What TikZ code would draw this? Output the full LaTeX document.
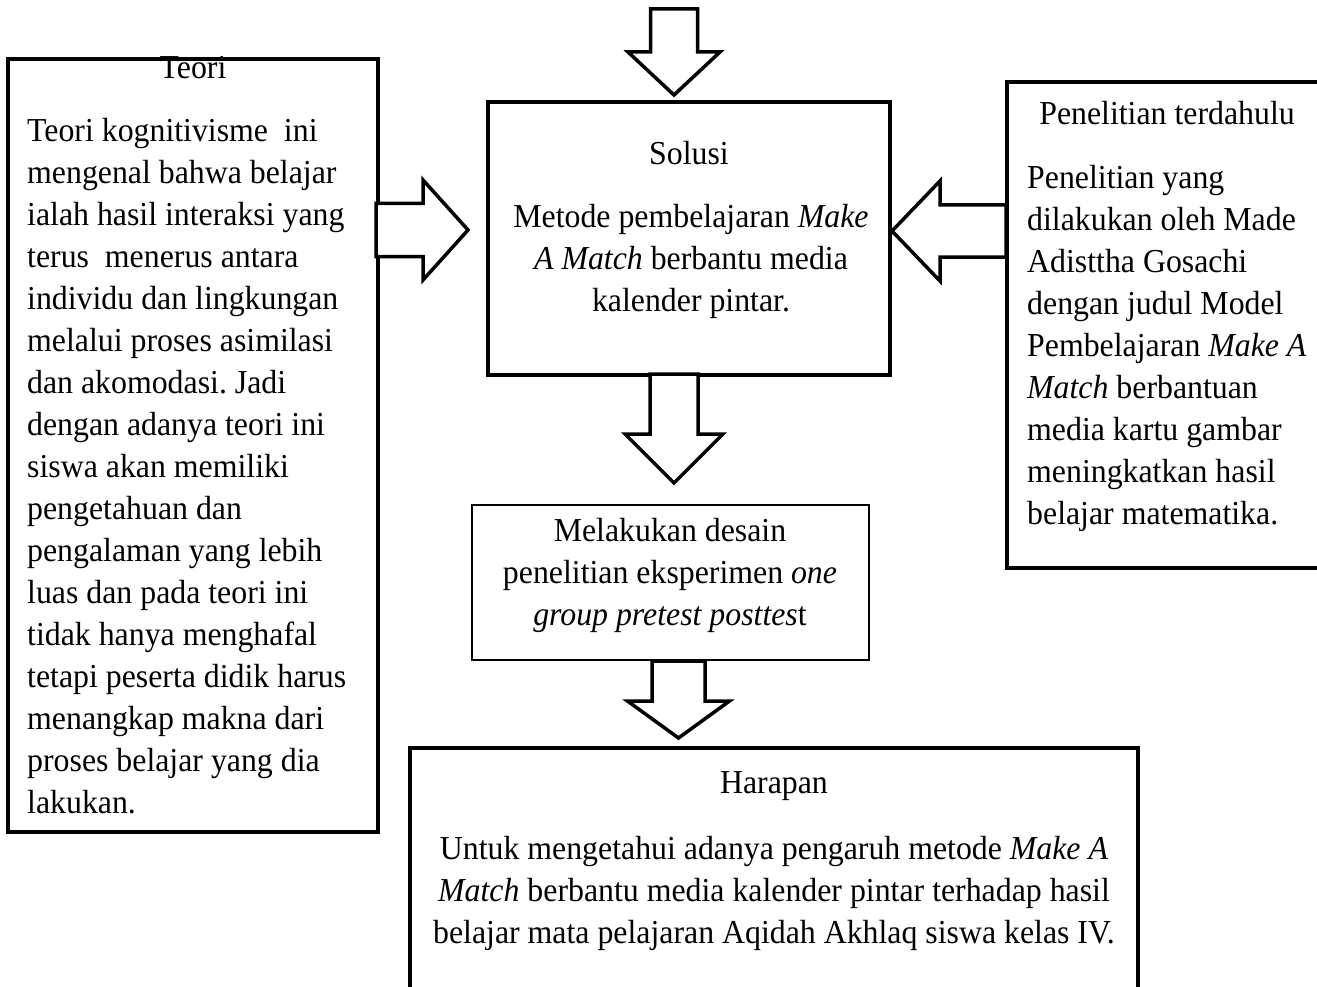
\documentclass[tikz,border=0pt]{standalone}
\usepackage{fontspec}
\setmainfont[FakeStretch=0.95]{Liberation Serif}
\usetikzlibrary{calc}
\frenchspacing
% block arrow: #1 start, #2 tip, #3 shaft half-width, #4 head half-width, #5 head length
\newcommand\blockarrow[5]{%
  \coordinate (hb) at ($(#2)!#5pt!(#1)$);
  \draw[barrow] ($(#1)!#3pt!90:(#2)$) -- ($(hb)!#3pt!90:(#2)$) -- ($(hb)!#4pt!90:(#2)$)
    -- (#2) -- ($(hb)!#4pt!-90:(#2)$) -- ($(hb)!#3pt!-90:(#2)$) -- ($(#1)!#3pt!-90:(#2)$) -- cycle;}
\begin{document}
\begin{tikzpicture}[x=1pt,y=-1pt,
  txt/.style={font=\fontsize{33.5}{42}\selectfont\frenchspacing, inner sep=0pt},
  thickbox/.style={draw, line width=4pt, inner sep=0pt, outer sep=0pt, anchor=north west},
  thinbox/.style={draw, line width=2pt, inner sep=0pt, outer sep=0pt, anchor=north west},
  barrow/.style={draw, fill=white, line width=3.5pt, line join=miter}]
\useasboundingbox (0,0) rectangle (1317,987);

% texts
\node[txt, anchor=base] (teorititle) at (193,79) {Teori};
\node[txt, align=left, anchor=north west] (teoritext) at (27,111.6) {\strut Teori kognitivisme\ \ ini\\
mengenal bahwa belajar\\
ialah hasil interaksi yang\\
terus\ \ menerus antara\\
individu dan lingkungan\\
melalui proses asimilasi\\
dan akomodasi. Jadi\\
dengan adanya teori ini\\
siswa akan memiliki\\
pengetahuan dan\\
pengalaman yang lebih\\
luas dan pada teori ini\\
tidak hanya menghafal\\
tetapi peserta didik harus\\
menangkap makna dari\\
proses belajar yang dia\\
lakukan.};

\node[txt, anchor=base] (solusititle) at (689,165) {Solusi};
\node[txt, align=center, anchor=north] (solusitext) at (691,197.6) {\strut Metode pembelajaran \textit{Make}\\
\textit{A Match} berbantu media\\
kalender pintar.};

\node[txt, anchor=base] (terdahulutitle) at (1167,125) {Penelitian terdahulu};
\node[txt, align=left, anchor=north west] (terdahulutext) at (1027,158.6) {\strut Penelitian yang\\
dilakukan oleh Made\\
Adisttha Gosachi\\
dengan judul Model\\
Pembelajaran \textit{Make A}\\
\textit{Match} berbantuan\\
media kartu gambar\\
meningkatkan hasil\\
belajar matematika.};

\node[txt, align=center, anchor=north] (desaintext) at (670,511.6) {\strut Melakukan desain\\
penelitian eksperimen \textit{one}\\
\textit{group pretest posttes}t};

\node[txt, anchor=base] (harapantitle) at (774,793) {Harapan};
\node[txt, align=center, anchor=north] (harapantext) at (774,829.6) {\strut Untuk mengetahui adanya pengaruh metode \textit{Make A}\\
\textit{Match} berbantu media kalender pintar terhadap hasil\\
belajar mata pelajaran Aqidah Akhlaq siswa kelas IV.};

% boxes
\node[thickbox, minimum width=370pt, minimum height=773pt] (teori) at (8,59) {};
\node[thickbox, minimum width=402pt, minimum height=273pt] (solusi) at (488,102) {};
\node[thickbox, minimum width=320pt, minimum height=486pt] (terdahulu) at (1007,82) {};
\node[thinbox, minimum width=397pt, minimum height=155pt] (desain) at (472,505) {};
\node[thickbox, minimum width=728pt, minimum height=250pt] (harapan) at (410,748) {};

% block arrows
\coordinate (a1s) at (674,9);      \coordinate (a1e) at (674,95);
\coordinate (a2s) at (376,230);    \coordinate (a2e) at (468,230);
\coordinate (a3s) at (1006,231);   \coordinate (a3e) at (892,231);
\coordinate (a4s) at (674,374);    \coordinate (a4e) at (674,483);
\coordinate (a5s) at (678.5,661);  \coordinate (a5e) at (678.5,738);
\blockarrow{a1s}{a1e}{23.5}{46}{43}
\blockarrow{a2s}{a2e}{26.5}{50}{45}
\blockarrow{a3s}{a3e}{26}{50}{48}
\blockarrow{a4s}{a4e}{24}{49}{49}
\blockarrow{a5s}{a5e}{26.5}{51}{37}
\end{tikzpicture}
\end{document}
